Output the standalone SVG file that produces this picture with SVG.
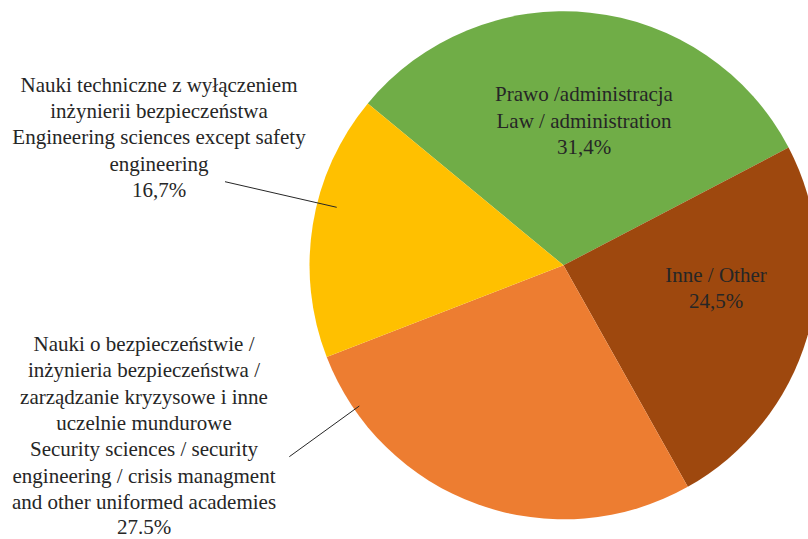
<svg xmlns="http://www.w3.org/2000/svg" width="808" height="539" viewBox="0 0 808 539">
<style>
text{font-size:21px;fill:#262626;text-anchor:middle}
.lead{stroke:#262626;stroke-width:1;fill:none}
</style>
<rect width="808" height="539" fill="#ffffff"/>
<g font-family="'Liberation Serif', 'Times New Roman', 'DejaVu Serif', serif">
<g id="slice-law">
<path d="M563.5,265.3 L367.8,103.4 A254,254 0 0 1 788.6,147.6 Z" fill="#70AD47"/>
<text x="584" y="101">Prawo /administracja</text>
<text x="584" y="127.5">Law / administration</text>
<text x="584" y="154">31,4%</text>
</g>
<g id="slice-other">
<path d="M563.5,265.3 L788.6,147.6 A254,254 0 0 1 687.8,486.8 Z" fill="#9E480E"/>
<text x="716" y="281.7">Inne / Other</text>
<text x="716" y="308.3">24,5%</text>
</g>
<g id="slice-security">
<path d="M563.5,265.3 L687.8,486.8 A254,254 0 0 1 326.7,357.1 Z" fill="#ED7D31"/>
<text x="144" y="351">Nauki o bezpieczeństwie /</text>
<text x="144" y="377.3">inżynieria bezpieczeństwa /</text>
<text x="144" y="403.6">zarządzanie kryzysowe i inne</text>
<text x="144" y="429.9">uczelnie mundurowe</text>
<text x="144" y="456.2">Security sciences / security</text>
<text x="144" y="482.5">engineering / crisis managment</text>
<text x="144" y="508.8">and other uniformed academies</text>
<text x="144" y="534">27.5%</text>
</g>
<g id="slice-engineering">
<path d="M563.5,265.3 L326.7,357.1 A254,254 0 0 1 367.8,103.4 Z" fill="#FFC000"/>
<text x="159" y="91.5">Nauki techniczne z wyłączeniem</text>
<text x="159" y="117.9">inżynierii bezpieczeństwa</text>
<text x="159" y="144.3">Engineering sciences except safety</text>
<text x="159" y="170.7">engineering</text>
<text x="159" y="197.1">16,7%</text>
</g>
</g>
<g id="connectors">
<line class="lead" x1="225" y1="181.7" x2="336.7" y2="207.3"/>
<line class="lead" x1="289.3" y1="456.7" x2="359.3" y2="406"/>
</g>
</svg>
